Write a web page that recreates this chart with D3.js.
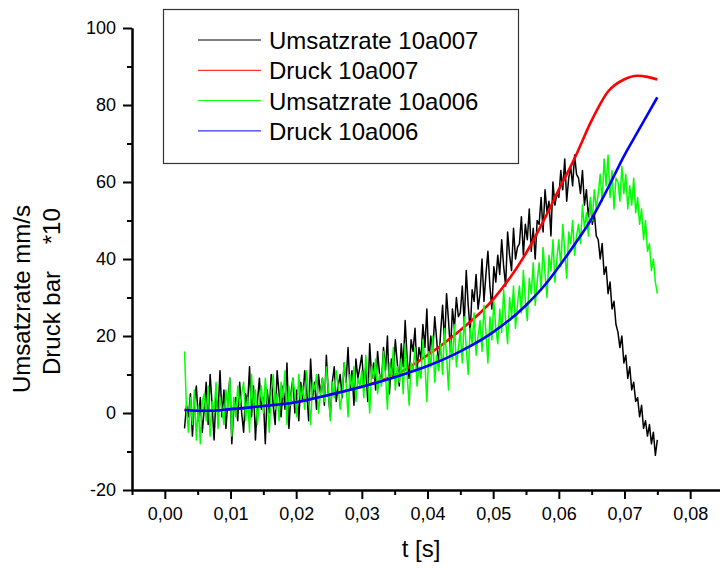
<!DOCTYPE html>
<html>
<head>
<meta charset="utf-8">
<script src="https://cdn.jsdelivr.net/npm/d3@7"></script>
<style>
  body { margin: 0; background: #fff; }
  svg { display: block; font-family: "Liberation Sans", Arial, sans-serif; }
</style>
</head>
<body>
<div id="chart"></div>
<script>
// sampling grid of the rate measurements
const rateStart = 0.003;
const rateStep = 0.0003;

// Umsatzrate 10a007 (black), mm/s
const rate007 = [
  -4, 2, -1, 5, -6, 3, 7, -2, 4, -5,
  1, 8, -3, 10, 2, -7, 5, 0, 11, -1,
  6, -4, 3, 9, -8, 1, 4, -2, 8, 0,
  -5, 5, 2, 12, -1, 7, -7, 3, 9, 1,
  4, -8, 6, 0, 10, 2, -3, 11, 5, -1,
  7, 1, 13, -4, 5, 9, 0, 6, -2, 8,
  3, 11, 6, -2, 14, 4, 8, 1, 10, 5,
  9, 2, 15, 5, -1, 8, 12, 3, 7, 10,
  4, 13, 8, 17, 6, 11, 2, 14, 9, 12,
  15, 7, 12, 3, 18, 9, 13, 6, 16, 10,
  8, 17, 11, 20, 5, 14, 10, 19, 13, 7,
  18, 12, 24, 14, 9, 19, 16, 22, 11, 17,
  14, 23, 17, 27, 13, 20, 16, 25, 19, 12,
  21, 28, 18, 31, 24, 16, 27, 22, 30, 25,
  26, 33, 23, 37, 28, 21, 32, 29, 36, 27,
  31, 40, 29, 36, 42, 33, 27, 38, 34, 41,
  36, 45, 38, 33, 47, 41, 37, 48, 40, 43,
  44, 51, 41, 49, 45, 53, 42, 48, 40, 50,
  49, 56, 47, 58, 52, 55, 46, 60, 54, 57,
  56, 63, 58, 66, 55, 61, 64, 59, 67, 62,
  61, 57, 63, 54, 58, 51, 55, 49, 52, 46,
  45, 40, 44, 36, 38, 31, 34, 27, 29, 23,
  21, 17, 20, 13, 15, 9, 12, 6, 8, 3,
  4, -1, 2, -4, -2, -6, -3, -8, -5, -11,
  -7
];

// Umsatzrate 10a006 (green), mm/s
const rate006 = [
  16, 1, -5, 4, -3, 6, -7, 2, -8, 3,
  5, -2, 7, -6, 3, 0, 8, -4, 4, 1,
  -3, 6, 1, 9, -6, 4, -1, 7, 2, 5,
  8, -2, 4, -5, 10, 1, 6, -3, 3, 7,
  0, 9, 3, -5, 6, 10, 1, 5, -2, 8,
  4, 11, -3, 7, 2, 9, 5, -1, 10, 3,
  7, 1, 11, 4, -3, 8, 6, 10, 0, 5,
  9, 3, 12, 6, -2, 8, 4, 11, 7, 1,
  5, 13, 8, -1, 10, 6, 12, 3, 9, 7,
  11, 4, 15, 8, 0, 12, 9, 14, 5, 10,
  7, 16, 10, 1, 13, 9, 17, 6, 12, 8,
  14, 5, 18, 10, 2, 13, 11, 17, 7, 12,
  9, 19, 13, 3, 16, 12, 20, 8, 15, 11,
  18, 10, 22, 15, 6, 19, 14, 23, 12, 17,
  21, 13, 25, 17, 10, 22, 18, 26, 15, 20,
  24, 16, 28, 21, 13, 25, 19, 29, 22, 18,
  27, 21, 32, 24, 18, 30, 25, 33, 22, 28,
  33, 26, 37, 29, 24, 35, 31, 39, 28, 34,
  39, 32, 43, 36, 30, 41, 37, 45, 34, 40,
  45, 38, 49, 42, 35, 47, 44, 50, 41, 46,
  49, 44, 54, 48, 52, 46, 56, 50, 58, 53,
  57, 62, 55, 66, 59, 67, 56, 63, 53, 61,
  60, 55, 64, 57, 62, 53, 59, 54, 61, 52,
  56, 49, 53, 45, 50, 42, 44, 37, 40, 34,
  31
];

// pressure curves (bar *10), read at these times
const pressureTimes = [0.003, 0.005, 0.007, 0.010, 0.015, 0.020, 0.025, 0.030, 0.035, 0.040, 0.045,
  0.050, 0.055, 0.058, 0.060, 0.0625, 0.065, 0.0675, 0.070, 0.072, 0.0735, 0.075];
const pressure007 = [0.8, 0.6, 0.6, 1.0, 1.8, 2.8, 4.7, 6.8, 9.8, 15.0, 21.5,
  29.5, 41.5, 51.0, 58.0, 66.5, 76.0, 83.5, 86.7, 87.6, 87.3, 86.6];
const pressure006 = [0.8, 0.6, 0.6, 1.0, 1.8, 2.8, 4.7, 6.8, 9.3, 12.2, 16.0,
  21.0, 28.0, 33.5, 38.0, 44.0, 50.5, 58.5, 67.0, 73.0, 77.5, 82.0];

const xMajor = [0, 0.01, 0.02, 0.03, 0.04, 0.05, 0.06, 0.07, 0.08];
const xMinor = [-0.005, 0.005, 0.015, 0.025, 0.035, 0.045, 0.055, 0.065, 0.075, 0.085];
const yMajor = [-20, 0, 20, 40, 60, 80, 100];
const yMinor = [-10, 10, 30, 50, 70, 90];

const seriesNames = ['Umsatzrate 10a007', 'Druck 10a007', 'Umsatzrate 10a006', 'Druck 10a006'];
const seriesColors = ['#000000', '#ff0000', '#00ff00', '#0000ff'];

const width = 720;
const height = 568;

const svg = d3.select('#chart')
  .append('svg')
  .attr('width', width)
  .attr('height', height);

const x = d3.scaleLinear().domain([-0.005, 0.085]).range([132, 723]);
const y = d3.scaleLinear().domain([-20, 100]).range([490, 28]);

const locale = d3.formatLocale({decimal: ',', thousands: '.', grouping: [3], currency: ['', ''], minus: '-'});
const fmtX = locale.format('.2f');
const fmtY = locale.format('d');

// data series
const rateData = s => s.map((v, i) => [rateStart + i * rateStep, v]);
const pressData = s => s.map((v, i) => [pressureTimes[i], v]);

const rawLine = d3.line().x(d => x(d[0])).y(d => y(d[1]));
const smoothLine = d3.line().x(d => x(d[0])).y(d => y(d[1])).curve(d3.curveMonotoneX);

const series = [
  {data: rateData(rate007), gen: rawLine, w: 1.5},
  {data: pressData(pressure007), gen: smoothLine, w: 2.6},
  {data: rateData(rate006), gen: rawLine, w: 1.5},
  {data: pressData(pressure006), gen: smoothLine, w: 2.6}
];

svg.append('g')
  .selectAll('path')
  .data(series)
  .join('path')
    .attr('fill', 'none')
    .attr('stroke', (_, i) => seriesColors[i])
    .attr('stroke-width', d => d.w)
    .attr('stroke-linejoin', 'round')
    .attr('d', d => d.gen(d.data));

// axes
function styleAxis(g) {
  g.select('.domain').attr('stroke-width', 2);
  g.selectAll('.tick line').attr('stroke-width', 2);
  g.selectAll('text').attr('font-size', 18).attr('font-family', '"Liberation Sans", Arial, sans-serif').attr('fill', '#000');
}

svg.append('g')
  .attr('transform', 'translate(0,490)')
  .call(d3.axisBottom(x).tickValues(xMinor).tickSize(5).tickSizeOuter(0).tickFormat(''))
  .call(styleAxis);
svg.append('g')
  .attr('transform', 'translate(0,490)')
  .call(d3.axisBottom(x).tickValues(xMajor).tickSize(9).tickSizeOuter(0).tickPadding(8).tickFormat(fmtX))
  .call(styleAxis);

svg.append('g')
  .attr('transform', 'translate(132,0)')
  .call(d3.axisLeft(y).tickValues(yMinor).tickSize(5).tickSizeOuter(0).tickFormat(''))
  .call(styleAxis);
svg.append('g')
  .attr('transform', 'translate(132,0)')
  .call(d3.axisLeft(y).tickValues(yMajor).tickSize(9).tickSizeOuter(0).tickPadding(7).tickFormat(fmtY))
  .call(styleAxis);

// axis titles
svg.append('text')
  .attr('x', 421)
  .attr('y', 557)
  .attr('text-anchor', 'middle')
  .attr('font-size', 24)
  .text('t [s]');

svg.append('text')
  .attr('transform', 'translate(30,393) rotate(-90)')
  .attr('font-size', 24)
  .text('Umsatzrate mm/s');

svg.append('text')
  .attr('transform', 'translate(60,375) rotate(-90)')
  .attr('font-size', 24)
  .style('white-space', 'pre')
  .text('Druck bar    *10');

// legend
const legend = svg.append('g');
legend.append('rect')
  .attr('x', 163.5)
  .attr('y', 9.5)
  .attr('width', 355)
  .attr('height', 154)
  .attr('fill', '#fff')
  .attr('stroke', '#333')
  .attr('stroke-width', 1.2);

const rows = legend.selectAll('g.row')
  .data(seriesNames)
  .join('g')
    .attr('class', 'row')
    .attr('transform', (_, i) => `translate(0,${40 + i * 30.3})`);

rows.append('line')
  .attr('x1', 198)
  .attr('x2', 261)
  .attr('stroke', (_, i) => seriesColors[i])
  .attr('stroke-width', 1);

rows.append('text')
  .attr('x', 269)
  .attr('y', 9)
  .attr('font-size', 24)
  .text(d => d);
</script>
</body>
</html>
